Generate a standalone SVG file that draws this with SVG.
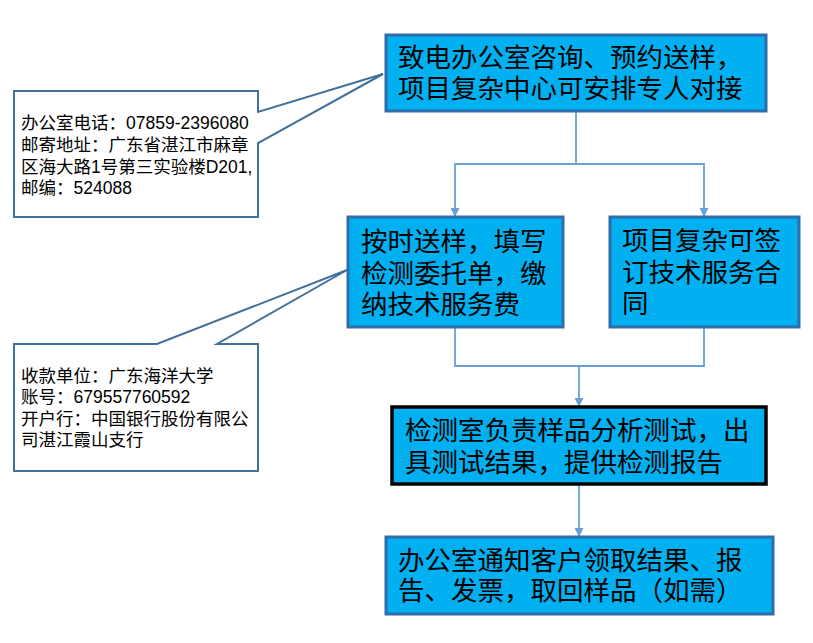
<svg xmlns="http://www.w3.org/2000/svg" width="813" height="643" viewBox="0 0 813 643">
<style>
.box{fill:#00B0F0;stroke:#2F6EAB;stroke-width:3}
.boxk{fill:#00B0F0;stroke:#000;stroke-width:3.5}
.call{fill:#fff;stroke:#41719C;stroke-width:2}
.t{font-family:"Liberation Sans","Noto Sans CJK SC",sans-serif;font-size:26.5px;fill:#000}
.s{font-family:"Liberation Sans","Noto Sans CJK SC",sans-serif;font-size:17.5px;fill:#000}
.c{fill:none;stroke:#6A9FD6;stroke-width:1.8}
</style>
<defs>
<marker id="ah" viewBox="0 0 10 10" refX="10" refY="5" markerWidth="5" markerHeight="5" orient="auto" markerUnits="strokeWidth">
<path d="M0,0 L10,5 L0,10 Z" fill="#6A9FD6"/>
</marker>
</defs>
<g id="connectors">
<path class="c" d="M576,111 V164 H455 V217" marker-end="url(#ah)"/>
<path class="c" d="M576,164 H704 V217" marker-end="url(#ah)"/>
<path class="c" d="M455,327 V366 H704 V327"/>
<path class="c" d="M579,366 V407" marker-end="url(#ah)"/>
<path class="c" d="M579,484 V537" marker-end="url(#ah)"/>
</g>
<g id="callout1">
<path class="call" d="M14,91 H258 V112 L383,74 L258,143 V217 H14 Z"/>
<text class="s" x="21" y="128.5">办公室电话：07859-2396080</text>
<text class="s" x="21" y="150.5">邮寄地址：广东省湛江市麻章</text>
<text class="s" x="21" y="172.5">区海大路1号第三实验楼D201,</text>
<text class="s" x="21" y="193.5">邮编：524088</text>
</g>
<g id="callout2">
<path class="call" d="M14,344 H157 L347,270 L217,344 H258 V471 H14 Z"/>
<text class="s" x="21" y="381.5">收款单位：广东海洋大学</text>
<text class="s" x="21" y="402.5">账号：679557760592</text>
<text class="s" x="21" y="424.5">开户行：中国银行股份有限公</text>
<text class="s" x="21" y="445.5">司湛江霞山支行</text>
</g>
<g id="n1">
<rect class="box" x="386" y="35" width="380" height="76"/>
<text class="t" x="398" y="67">致电办公室咨询、预约送样，</text>
<text class="t" x="398" y="98">项目复杂中心可安排专人对接</text>
</g>
<g id="n2">
<rect class="box" x="348" y="217" width="215" height="110"/>
<text class="t" x="361" y="251">按时送样，填写</text>
<text class="t" x="361" y="283">检测委托单，缴</text>
<text class="t" x="361" y="314">纳技术服务费</text>
</g>
<g id="n3">
<rect class="box" x="610" y="217" width="189" height="110"/>
<text class="t" x="622" y="250">项目复杂可签</text>
<text class="t" x="622" y="282">订技术服务合</text>
<text class="t" x="622" y="313">同</text>
</g>
<g id="n4">
<rect class="boxk" x="392" y="407" width="374" height="77"/>
<text class="t" x="405" y="440">检测室负责样品分析测试，出</text>
<text class="t" x="405" y="472">具测试结果，提供检测报告</text>
</g>
<g id="n5">
<rect class="box" x="386" y="537" width="387" height="77"/>
<text class="t" x="398" y="570">办公室通知客户领取结果、报</text>
<text class="t" x="398" y="600">告、发票，取回样品（如需）</text>
</g>
</svg>
